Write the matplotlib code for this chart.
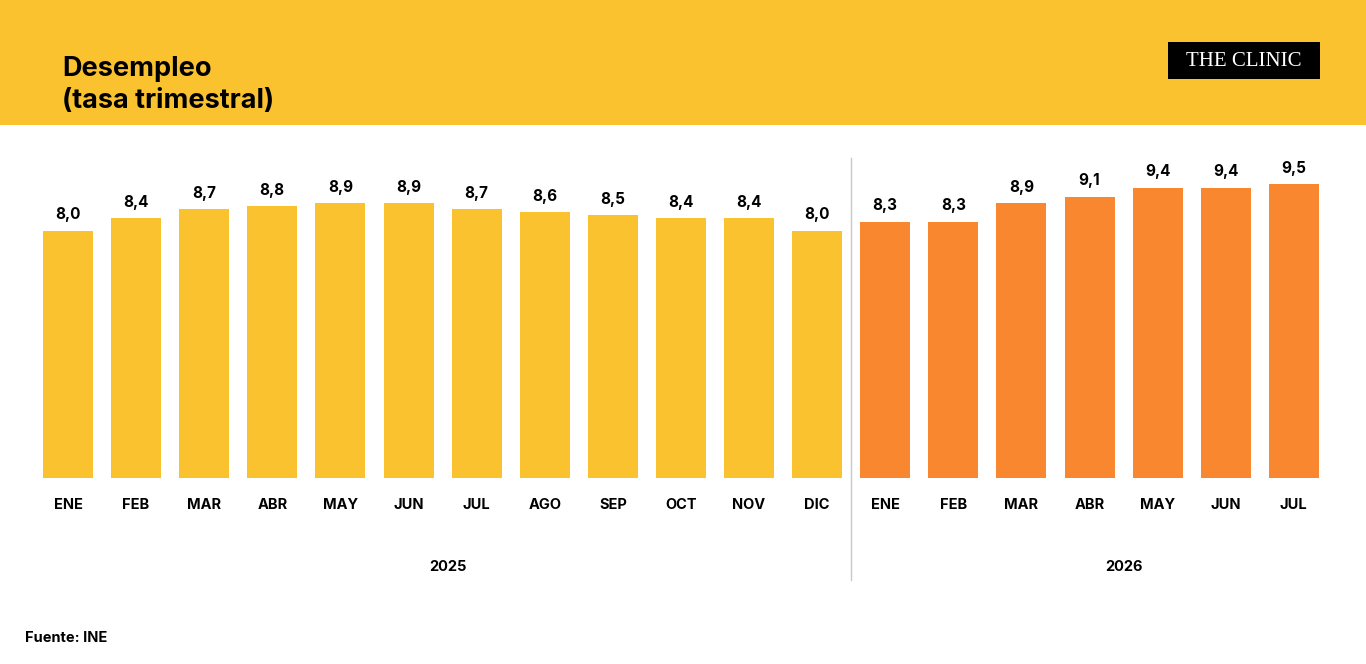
import matplotlib.pyplot as plt
from matplotlib.patches import Rectangle

meses_2025 = ['ENE', 'FEB', 'MAR', 'ABR', 'MAY', 'JUN', 'JUL', 'AGO', 'SEP', 'OCT', 'NOV', 'DIC']
tasa_2025 = [8.0, 8.4, 8.7, 8.8, 8.9, 8.9, 8.7, 8.6, 8.5, 8.4, 8.4, 8.0]
meses_2026 = ['ENE', 'FEB', 'MAR', 'ABR', 'MAY', 'JUN', 'JUL']
tasa_2026 = [8.3, 8.3, 8.9, 9.1, 9.4, 9.4, 9.5]

amarillo = '#F9C22E'
naranja = '#F98730'

plt.rcParams['font.family'] = ['Inter', 'DejaVu Sans']

W, H = 1366, 664
fig = plt.figure(figsize=(W / 100, H / 100), dpi=100)

# franja superior
fig.patches.append(Rectangle((0, 1 - 125 / H), 1, 125 / H, transform=fig.transFigure,
                             facecolor=amarillo, edgecolor='none', zorder=0))
fig.text(62 / W, 1 - 69 / H, 'Desempleo', fontsize=19.5, fontweight='bold', va='center', ha='left')
fig.text(62 / W, 1 - 101 / H, '(tasa trimestral)', fontsize=19.5, fontweight='bold', va='center', ha='left')

# logo
fig.patches.append(Rectangle((1168 / W, 1 - 79 / H), 152 / W, 37 / H, transform=fig.transFigure,
                             facecolor='black', edgecolor='none', zorder=1))
fig.text(1244 / W, 1 - 61 / H, 'THE CLINIC', fontsize=15, color='white',
         family='Liberation Serif', ha='center', va='center', zorder=2)

pitch = 68.1
ax = fig.add_axes([0, 186 / H, 1, (478 - 125) / H])
n = len(tasa_2025) + len(tasa_2026)
ax.set_xlim(-68 / pitch, (W - 68) / pitch)
ax.set_ylim(0, 353 / 30.9)
ax.axis('off')

x25 = list(range(len(tasa_2025)))
x26 = list(range(len(tasa_2025), n))
b1 = ax.bar(x25, tasa_2025, width=50 / pitch, color=amarillo)
b2 = ax.bar(x26, tasa_2026, width=50 / pitch, color=naranja)
for bars in (b1, b2):
    labels = [f'{b.get_height():.1f}'.replace('.', ',') for b in bars]
    ax.bar_label(bars, labels=labels, padding=6, fontsize=11, fontweight='bold')

for x, m in zip(x25 + x26, meses_2025 + meses_2026):
    ax.annotate(m, (x, 0), xytext=(0, -27 * 0.72), textcoords='offset points',
                ha='center', va='center', fontsize=10.5, fontweight='bold', annotation_clip=False)

ax.annotate('2025', (5.58, 0), xytext=(0, -89 * 0.72), textcoords='offset points',
            ha='center', va='center', fontsize=10.5, fontweight='bold', annotation_clip=False)
ax.annotate('2026', (15.5, 0), xytext=(0, -89 * 0.72), textcoords='offset points',
            ha='center', va='center', fontsize=10.5, fontweight='bold', annotation_clip=False)

# separador entre años
fig.add_artist(plt.Line2D([851 / W, 851 / W], [1 - 158 / H, 1 - 580 / H],
                          transform=fig.transFigure, color='#c8c8c8', linewidth=1))

fig.text(25 / W, 1 - 638 / H, 'Fuente: INE', fontsize=10.5, fontweight='bold', va='center', ha='left')

fig.savefig('out.png', dpi=100, facecolor='white')
